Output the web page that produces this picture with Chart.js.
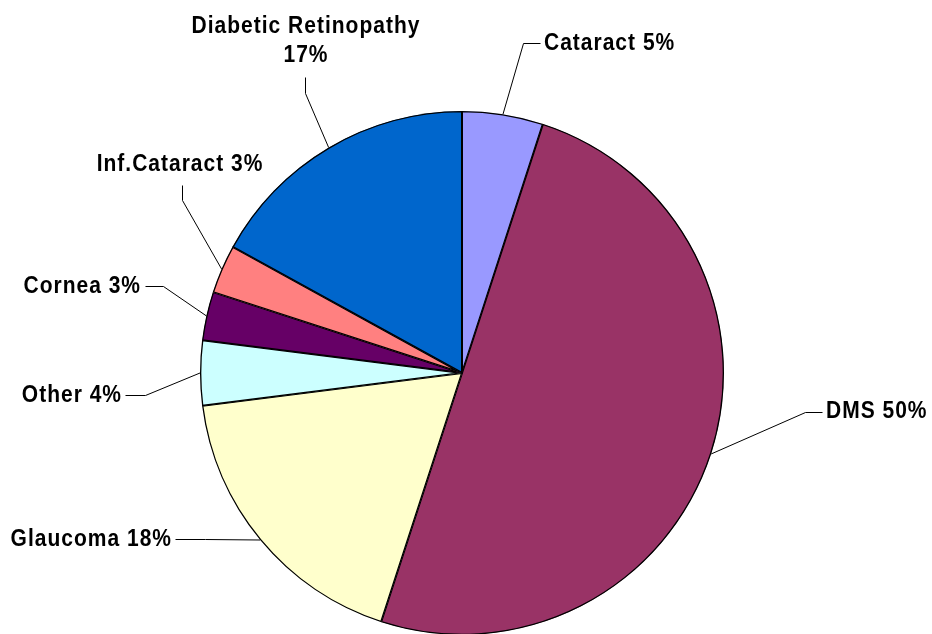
<!DOCTYPE html>
<html>
<head>
<meta charset="utf-8">
<script src="https://cdn.jsdelivr.net/npm/chart.js@4"></script>
<style>
  html, body { margin:0; padding:0; background:#fff; overflow:hidden; }
  canvas { display:block; }
</style>
</head>
<body>
<canvas id="pie" width="932" height="640"></canvas>
<script>
// datos del grafico
const categories = ['Cataract', 'DMS', 'Glaucoma', 'Other', 'Cornea', 'Inf.Cataract', 'Diabetic Retinopathy'];
const shares     = [5, 50, 18, 4, 3, 3, 17];
const colors     = ['#9999FF', '#993366', '#FFFFCC', '#CCFFFF', '#660066', '#FF8080', '#0066CC'];

// posicion de cada etiqueta: codo de la linea, fin de la linea, texto
const labelLayout = [
  { elbow:[523,43],  end:[540,43],  text:[544,44],  align:'left' },
  { elbow:[805,412], end:[822,412], text:[826,412], align:'left' },
  { elbow:[205,539], end:[175,539], text:[172,540], align:'right' },
  { elbow:[145,395], end:[125,395], text:[122,396], align:'right' },
  { elbow:[163,286], end:[145,286], text:[141,287], align:'right' },
  { elbow:[182,200], end:[182,185], text:[180,165], align:'center' },
  { elbow:[305,93],  end:[305,77],  text:[306,27],  align:'center', twoLines:true }
];

// el texto del original es algo mas alto que Arial
function tallText(ctx, str, x, y){
  ctx.save();
  ctx.translate(x, y);
  ctx.scale(1, 1.12);
  ctx.fillText(str, 0, 0);
  ctx.restore();
}

const leaderLabels = {
  id:'leaderLabels',
  afterDatasetsDraw(chart){
    const ctx = chart.ctx;
    const meta = chart.getDatasetMeta(0);
    const total = shares.reduce((a,b)=>a+b,0);
    ctx.save();
    ctx.strokeStyle = '#000';
    ctx.lineWidth = 1;
    ctx.fillStyle = '#000';
    ctx.font = 'bold 21px "Liberation Sans", Arial, sans-serif';
    ctx.letterSpacing = '1px';
    ctx.textBaseline = 'middle';
    meta.data.forEach((arc, i) => {
      const lay = labelLayout[i];
      const mid = (arc.startAngle + arc.endAngle) / 2;
      const ax = arc.x + Math.cos(mid) * arc.outerRadius;
      const ay = arc.y + Math.sin(mid) * arc.outerRadius;
      ctx.beginPath();
      ctx.moveTo(ax, ay);
      ctx.lineTo(lay.elbow[0] + 0.5, lay.elbow[1] + 0.5);
      ctx.lineTo(lay.end[0] + 0.5, lay.end[1] + 0.5);
      ctx.stroke();
      const pct = Math.round(shares[i] / total * 100) + '%';
      ctx.textAlign = lay.align;
      if (lay.twoLines) {
        tallText(ctx, categories[i], lay.text[0], lay.text[1]);
        tallText(ctx, pct, lay.text[0], lay.text[1] + 29);
      } else {
        tallText(ctx, categories[i] + ' ' + pct, lay.text[0], lay.text[1]);
      }
    });
    ctx.restore();
  }
};

new Chart(document.getElementById('pie'), {
  type:'pie',
  data:{
    labels: categories,
    datasets:[{
      data: shares,
      backgroundColor: colors,
      borderColor:'#000',
      borderWidth:1,
      borderAlign:'inner'
    }]
  },
  options:{
    responsive:false,
    animation:false,
    layout:{ padding:{ left:200, right:208, top:111, bottom:5 } },
    plugins:{ legend:{ display:false }, tooltip:{ enabled:false } }
  },
  plugins:[leaderLabels]
});
</script>
</body>
</html>
